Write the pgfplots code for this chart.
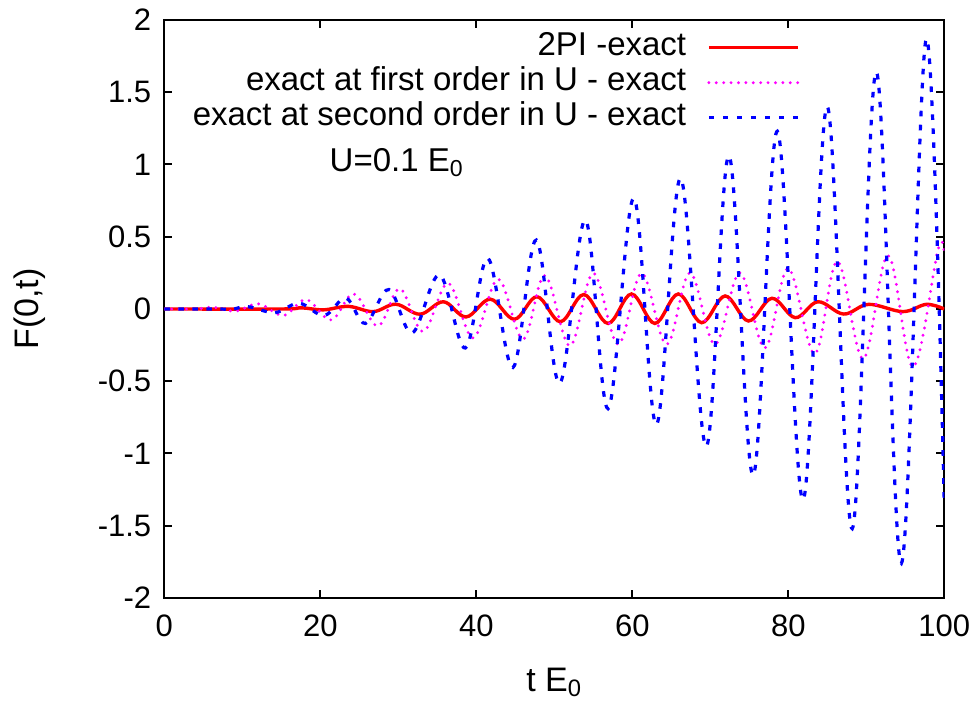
\documentclass[border=0pt]{standalone}
\usepackage{fontspec}
\setmainfont{Liberation Sans}
\usepackage{pgfplots}
\pgfplotsset{compat=1.18}
\definecolor{gred}{RGB}{255,0,0}
\definecolor{gmag}{RGB}{255,0,255}
\definecolor{gblue}{RGB}{0,0,255}
\begin{document}
\begin{tikzpicture}
\begin{axis}[
  scale only axis, width=390pt, height=289pt,
  xmin=0, xmax=100, ymin=-2, ymax=2,
  xtick={0,20,40,60,80,100},
  ytick={-2,-1.5,-1,-0.5,0,0.5,1,1.5,2},
  tick align=inside, major tick length=4pt,
  axis line style={line width=1pt},
  every tick/.style={black, line width=1pt},
  /pgf/number format/assume math mode=true,
  tick label style={font=\fontsize{15.5}{18}\selectfont},
  yticklabel style={xshift=-3pt},
  xticklabel style={yshift=-5pt},
  xlabel={t E\textsubscript{0}},
  ylabel={F(0,t)},
  label style={font=\fontsize{17}{20}\selectfont},
  xlabel style={at={(axis description cs:0.5,-0.161)}, anchor=base},
  ylabel style={at={(axis description cs:-0.172,0.5)}, anchor=center},
  legend cell align=right, legend plot pos=right,
  legend style={at={(axis description cs:0.815,0.983)}, anchor=north east,
    draw=none, fill=none, inner sep=0pt, row sep=0pt, column sep=10.5pt,
    font=\fontsize{16.5}{19}\selectfont,
    nodes={inner sep=0pt, text height=12.5pt, text depth=5pt}},
  legend image code/.code={\draw[#1] (0pt,0pt) -- (44.5pt,0pt);},
]
\addplot[gred, line width=1.7pt, smooth, tension=0.6] coordinates {
(0,0) (15,0) (17.6,0.008) (20.4,-0.006) (23.6,0.018) (26.8,-0.018) (29.7,0.033)
(32.8,-0.036) (35.8,0.05) (38.7,-0.055) (41.8,0.068) (44.9,-0.071) (47.8,0.085)
(50.8,-0.088) (53.8,0.1) (56.9,-0.1) (59.9,0.104) (62.9,-0.1) (65.9,0.104)
(68.9,-0.095) (71.9,0.09) (74.9,-0.083) (77.9,0.074) (80.9,-0.06) (83.8,0.05)
(87.1,-0.035) (90.3,0.032) (94.7,-0.018) (97.7,0.032) (100,0.0)};
\addlegendentry{2PI -exact}
\addplot[gmag, line width=1.6pt, dash pattern=on 0pt off 3.7pt, line cap=round, smooth, tension=0.6] coordinates {
(0,0) (4,0) (6.3,0.012) (9.1,-0.015) (12.1,0.035) (15.3,-0.045) (18.2,0.065)
(21.4,-0.076) (24.3,0.105) (27.4,-0.118) (30.2,0.14) (33.2,-0.155) (36.4,0.178)
(39.6,-0.2) (42.8,0.206) (46.0,-0.208) (48.8,0.232) (52.0,-0.255) (55.0,0.247)
(58.2,-0.245) (61.2,0.247) (64.4,-0.245) (67.4,0.25) (70.6,-0.245) (73.8,0.25)
(77.0,-0.27) (80.0,0.28) (83.4,-0.31) (86.3,0.33) (89.6,-0.345) (92.8,0.37)
(96.0,-0.4) (99.2,0.41) (100,0.39)};
\addlegendentry{exact at first order in U - exact}
\addplot[gblue, line width=1.6pt, dash pattern=on 2.8pt off 4.2pt, smooth, tension=0.6] coordinates {
(0,0) (7,0) (8.5,-0.005) (10.7,0.016) (14.2,-0.025) (17.3,0.04) (20.5,-0.045)
(23.3,0.075) (25.8,-0.1) (28.8,0.135) (31.8,-0.165) (35.3,0.235) (38.6,-0.27)
(41.5,0.35) (44.7,-0.405) (47.7,0.477) (50.7,-0.514) (54.0,0.615) (56.9,-0.69)
(60.2,0.766) (63.1,-0.8) (66.2,0.904) (69.5,-0.95) (72.4,1.06) (75.5,-1.15)
(78.6,1.23) (81.9,-1.32) (85.0,1.40) (88.2,-1.52) (91.3,1.64) (94.5,-1.76)
(97.7,1.87) (100,-1.35)};
\addlegendentry{exact at second order in U - exact}
\node[anchor=base west, font=\fontsize{16.5}{19}\selectfont] at (axis cs:20.3,0.95) {U=0.1 E\textsubscript{0}};
\coordinate (bbll) at (rel axis cs:-0.2106,-0.1834);
\coordinate (bbur) at (rel axis cs:1.0458,1.0346);
\end{axis}
\pgfresetboundingbox
\path (bbll) rectangle (bbur);
\end{tikzpicture}
\end{document}
